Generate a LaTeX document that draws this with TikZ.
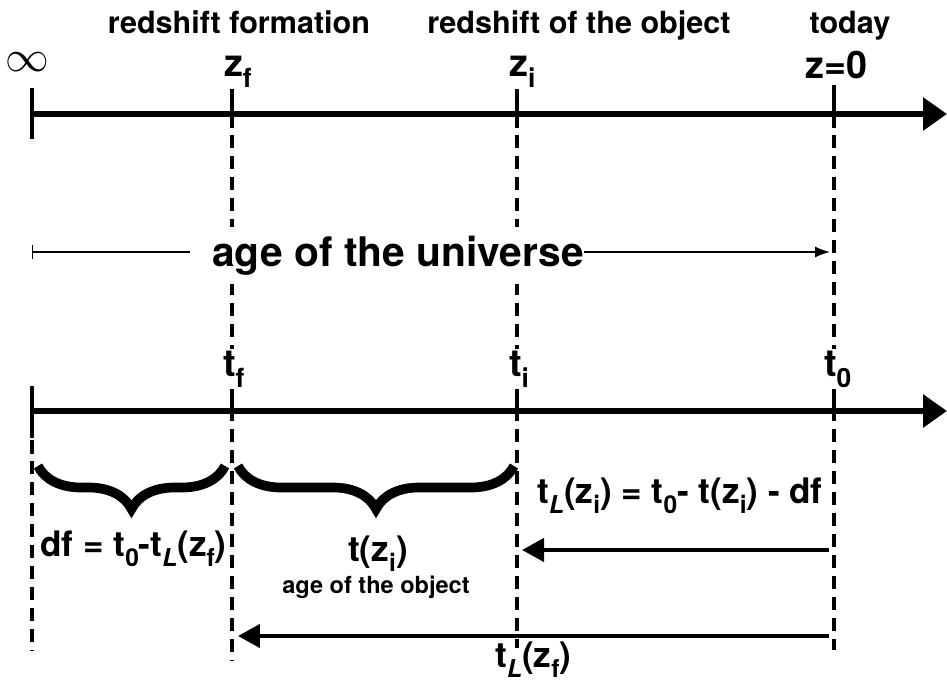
\documentclass[tikz,border=0pt]{standalone}
\usepackage{fontspec}
\setmainfont{TeX Gyre Heros}
\usetikzlibrary{arrows.meta, calc, decorations.pathreplacing}
\newcommand{\lowidx}[1]{\raisebox{-0.3em}{\scalebox{0.7}{#1}}}

\begin{document}
\begin{tikzpicture}[
  x=0.02cm, y=-0.02cm,
  font=\bfseries,
  axis/.style={line width=3.4pt, -{Triangle[length=0.48cm, width=0.64cm]}},
  notch/.style={line width=2.8pt},
  guide/.style={line width=1.9pt, dash pattern=on 0.27cm off 0.15cm},
  head/.style={font=\fontsize{17.4}{18}\selectfont\bfseries, anchor=base, inner sep=0pt},
  pointlab/.style={font=\fontsize{21.5}{22}\selectfont\bfseries, anchor=base west, inner sep=1pt, fill=white},
  eqn/.style={font=\fontsize{20}{21}\selectfont\bfseries, anchor=base west, inner sep=0pt},
  span/.style={line width=0.8pt},
  back/.style={line width=2.4pt, -{Triangle[length=0.44cm, width=0.46cm]}},
  curly/.style={decorate, decoration={brace, mirror, amplitude=0.86cm}, line width=5.5pt},
]
\useasboundingbox (0,0) rectangle (947,683);

% dashed guides
\draw[guide] (32,440) -- (32,650);
\draw[guide] (232,114) -- (232,660);
\draw[guide] (517,114) -- (517,648);
\draw[guide] (834,114) -- (834,650);

% redshift axis
\coordinate (zinf) at (32,114);
\coordinate (zend) at (947,114);
\draw[axis] (zinf) -- (zend);
\draw[notch] (32,88) -- (32,139);
\foreach \x in {232,517,834}{ \draw[notch] (\x,85) -- (\x,114); }

% time axis
\coordinate (tinf) at (32,411);
\coordinate (tend) at (947,411);
\draw[axis] (tinf) -- (tend);
\draw[notch] (32,386) -- (32,438);
\foreach \x in {232,517,834}{ \draw[notch] (\x,385) -- (\x,411); }

\node[head] (hform) at (239,33) {redshift formation};
\node[head] (hobj) at (579,33) {redshift of the object};
\node[head] (htoday) at (850,33) {today};

\node[font=\fontsize{23}{24}\selectfont] (inf) at (27,62) {$\infty$};
\node[pointlab] (zf) at (222,76) {z\lowidx{f}};
\node[pointlab] (zi) at (507,76) {z\lowidx{i}};
\node[pointlab] (z0) at (803,78) {z=0};

\node[pointlab] (tf) at (221,376) {t\lowidx{f}};
\node[pointlab] (ti) at (507,376) {t\lowidx{i}};
\node[pointlab] (t0) at (822,376) {t\lowidx{0}};

% age of the universe
\node[font=\fontsize{23.2}{24}\selectfont\bfseries, fill=white, anchor=base, inner xsep=0pt, inner ysep=5pt] (universe) at (398,266) {age of the universe};
\coordinate (ustart) at (32,252);
\coordinate (uend) at (830,252);
\draw[span, {Bar[width=0.28cm]}-] (ustart) -- ([xshift=-0.44cm]ustart -| universe.west);
\draw[span, -{Latex[length=0.3cm, width=0.22cm]}] (uend -| universe.east) -- (uend);

% braces
\draw[curly] (38,466) -- (225,466);
\draw[curly] (238,466) -- (514,466);

\node[eqn] (df) at (40,556) {df = t\lowidx{0}-t\lowidx{\itshape L}(z\lowidx{f})};
\node[eqn, anchor=base] (tzi) at (378,561) {t(z\lowidx{i})};
\node[font=\fontsize{13.4}{14}\selectfont\bfseries, anchor=base] (ageobj) at (376,593) {age of the object};
\node[eqn] (tlzi) at (537,503) {t\lowidx{\itshape L}(z\lowidx{i}) = t\lowidx{0}- t(z\lowidx{i}) - df};

% look-back arrows
\coordinate (a1s) at (829,550);
\coordinate (a1e) at (522,550);
\draw[back] (a1s) -- (a1e);
\coordinate (a2s) at (829,636);
\coordinate (a2e) at (238,636);
\draw[back] (a2s) -- (a2e);
\node[eqn] (tlzf) at (495,667) {t\lowidx{\itshape L}(z\lowidx{f})};
\end{tikzpicture}
\end{document}
